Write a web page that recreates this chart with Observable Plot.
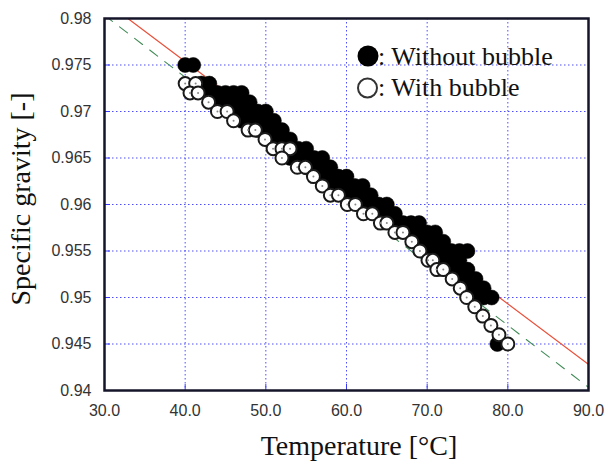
<!DOCTYPE html>
<html>
<head>
<meta charset="utf-8">
<script src="https://cdn.jsdelivr.net/npm/d3@7"></script>
<script src="https://cdn.jsdelivr.net/npm/@observablehq/plot@0.6"></script>
<style>
  html, body { margin: 0; padding: 0; background: #fff; }
  #chart { width: 605px; height: 464px; }
</style>
</head>
<body>
<div id="chart"></div>
<script>
// ---- data ----
const xTicks = [30, 40, 50, 60, 70, 80, 90];
const xTickLabels = ["30.0", "40.0", "50.0", "60.0", "70.0", "80.0", "90.0"];
const yTicks = [0.94, 0.945, 0.95, 0.955, 0.96, 0.965, 0.97, 0.975, 0.98];
const yTickLabels = ["0.94", "0.945", "0.95", "0.955", "0.96", "0.965", "0.97", "0.975", "0.98"];

// Without bubble (filled circles)
const blackT = [40, 41, 42, 43, 43, 44, 44, 45, 45, 46, 46, 46, 47, 47, 47, 47,
  48, 48, 48, 49, 49, 49, 50, 50, 50, 51, 51, 51, 52, 52, 53, 53, 53, 54, 54,
  55, 55, 55, 56, 56, 57, 57, 57, 58, 58, 58, 59, 59, 60, 60, 60, 61, 61,
  62, 62, 62, 63, 63, 64, 64, 65, 65, 66, 66, 67, 68, 68, 69, 69, 69,
  70, 70, 70, 71, 71, 71, 71, 72, 72, 72, 73, 73, 73, 74, 74, 74, 74,
  75, 75, 75, 75, 76, 76, 76, 77, 77, 78, 78.7];
const blackV = [0.975, 0.975, 0.973, 0.973, 0.972, 0.972, 0.971, 0.972, 0.971, 0.972, 0.971, 0.970, 0.972, 0.971, 0.970, 0.969,
  0.971, 0.970, 0.969, 0.970, 0.969, 0.968, 0.970, 0.969, 0.968, 0.969, 0.968, 0.967, 0.968, 0.967, 0.967, 0.966, 0.965, 0.966, 0.965,
  0.966, 0.965, 0.964, 0.965, 0.964, 0.965, 0.964, 0.963, 0.964, 0.963, 0.962, 0.963, 0.962, 0.963, 0.962, 0.961, 0.962, 0.961,
  0.962, 0.961, 0.960, 0.961, 0.960, 0.960, 0.959, 0.960, 0.959, 0.959, 0.958, 0.958, 0.958, 0.957, 0.958, 0.957, 0.956,
  0.957, 0.956, 0.955, 0.957, 0.956, 0.955, 0.954, 0.956, 0.955, 0.954, 0.955, 0.954, 0.953, 0.955, 0.954, 0.953, 0.952,
  0.955, 0.953, 0.952, 0.951, 0.952, 0.951, 0.950, 0.951, 0.950, 0.950, 0.945];

// With bubble (open circles)
const openT = [40, 41.3, 40.6, 41.6, 42.9, 44, 45.2, 46, 47.8, 48.7, 49.9, 50.9, 52, 53, 52, 53.9, 54.9, 55.9,
  57, 58, 59, 60.1, 61.1, 62.1, 63.2, 64.2, 65, 66, 67, 68.1, 69.1, 70.1, 70.7, 71.2, 72, 73.1, 74.1,
  74.9, 75.9, 76.9, 77.9, 78.9, 80];
const openV = [0.973, 0.973, 0.972, 0.972, 0.971, 0.970, 0.970, 0.969, 0.968, 0.968, 0.967, 0.966, 0.966, 0.966, 0.965, 0.964, 0.964, 0.963,
  0.962, 0.961, 0.961, 0.960, 0.960, 0.959, 0.959, 0.958, 0.958, 0.957, 0.957, 0.956, 0.955, 0.954, 0.954, 0.953, 0.953, 0.952, 0.951,
  0.950, 0.949, 0.948, 0.947, 0.946, 0.945];

// Fit lines
const redT = [32.9, 90];
const redV = [0.98, 0.9428];
const greenT = [30, 90];
const greenV = [0.98035, 0.94034];

const legendLabels = [": Without bubble", ": With bubble"];
const xTitle = "Temperature [°C]";
const yTitle = "Specific gravity [-]";

// ---- build tables ----
const black = blackT.map((t, i) => ({t, v: blackV[i]}));
const open = openT.map((t, i) => ({t, v: openV[i]}));
const red = redT.map((t, i) => ({t, v: redV[i]}));
const green = greenT.map((t, i) => ({t, v: greenV[i]}));

const gridStyle = {stroke: "#3a3aff", strokeOpacity: 0.9, strokeWidth: 1, strokeDasharray: "1.5,2.5"};

const svg = Plot.plot({
  width: 605,
  height: 464,
  marginLeft: 104,
  marginRight: 17,
  marginTop: 18,
  marginBottom: 74,
  x: {domain: [30, 90]},
  y: {domain: [0.94, 0.98]},
  style: {background: "#fff", fontFamily: "'Liberation Sans', Arial, sans-serif"},
  marks: [
    Plot.gridX(xTicks, gridStyle),
    Plot.gridY(yTicks, gridStyle),
    Plot.axisX(xTicks, {tickSize: -6, stroke: "#3a3aff", tickFormat: () => "", label: null}),
    Plot.axisY(yTicks, {tickSize: -6, stroke: "#3a3aff", tickFormat: () => "", label: null}),
    Plot.line(red, {x: "t", y: "v", stroke: "#e8503a", strokeWidth: 1.2, clip: true}),
    Plot.line(green, {x: "t", y: "v", stroke: "#3f8a55", strokeWidth: 1.1, strokeDasharray: "10,9", clip: true}),
    Plot.dot(black, {x: "t", y: "v", r: 7.5, fill: "#000", stroke: "#000", strokeWidth: 0.5}),
    Plot.dot(open, {x: "t", y: "v", r: 6.5, fill: "#fff", stroke: "#1a1a1a", strokeWidth: 2}),
    Plot.dot(open, {x: "t", y: "v", r: 1, fill: "#888"}),
    Plot.frame({stroke: "#15152a", strokeWidth: 2.5}),
    Plot.axisX(xTicks, {tickSize: 0, tickPadding: 14, fontSize: 16, fill: "#333",
      tickFormat: d => xTickLabels[xTicks.indexOf(d)], label: null}),
    Plot.axisY(yTicks, {tickSize: 0, tickPadding: 13, fontSize: 16, fill: "#333",
      tickFormat: d => yTickLabels[yTicks.indexOf(d)], label: null})
  ]
});

document.getElementById("chart").appendChild(svg);

// Axis titles and in-plot legend
const s = d3.select(svg);
const serif = "'Liberation Serif', 'Times New Roman', serif";
s.append("text")
  .attr("x", 359).attr("y", 455)
  .attr("text-anchor", "middle")
  .attr("font-family", serif).attr("font-size", 28).attr("fill", "#111")
  .text(xTitle);
s.append("text")
  .attr("transform", "translate(30,199) rotate(-90)")
  .attr("text-anchor", "middle")
  .attr("font-family", serif).attr("font-size", 28).attr("fill", "#111")
  .text(yTitle);

const lg = s.append("g");
lg.append("circle").attr("cx", 368).attr("cy", 56).attr("r", 10.5).attr("fill", "#000");
lg.append("circle").attr("cx", 367.5).attr("cy", 88).attr("r", 9.5)
  .attr("fill", "#fff").attr("stroke", "#333").attr("stroke-width", 2);
legendLabels.forEach((txt, i) => {
  lg.append("text")
    .attr("x", 378).attr("y", 65 + i * 31)
    .attr("text-anchor", "start")
    .attr("font-family", serif).attr("font-size", 26).attr("fill", "#111")
    .text(txt);
});
</script>
</body>
</html>
